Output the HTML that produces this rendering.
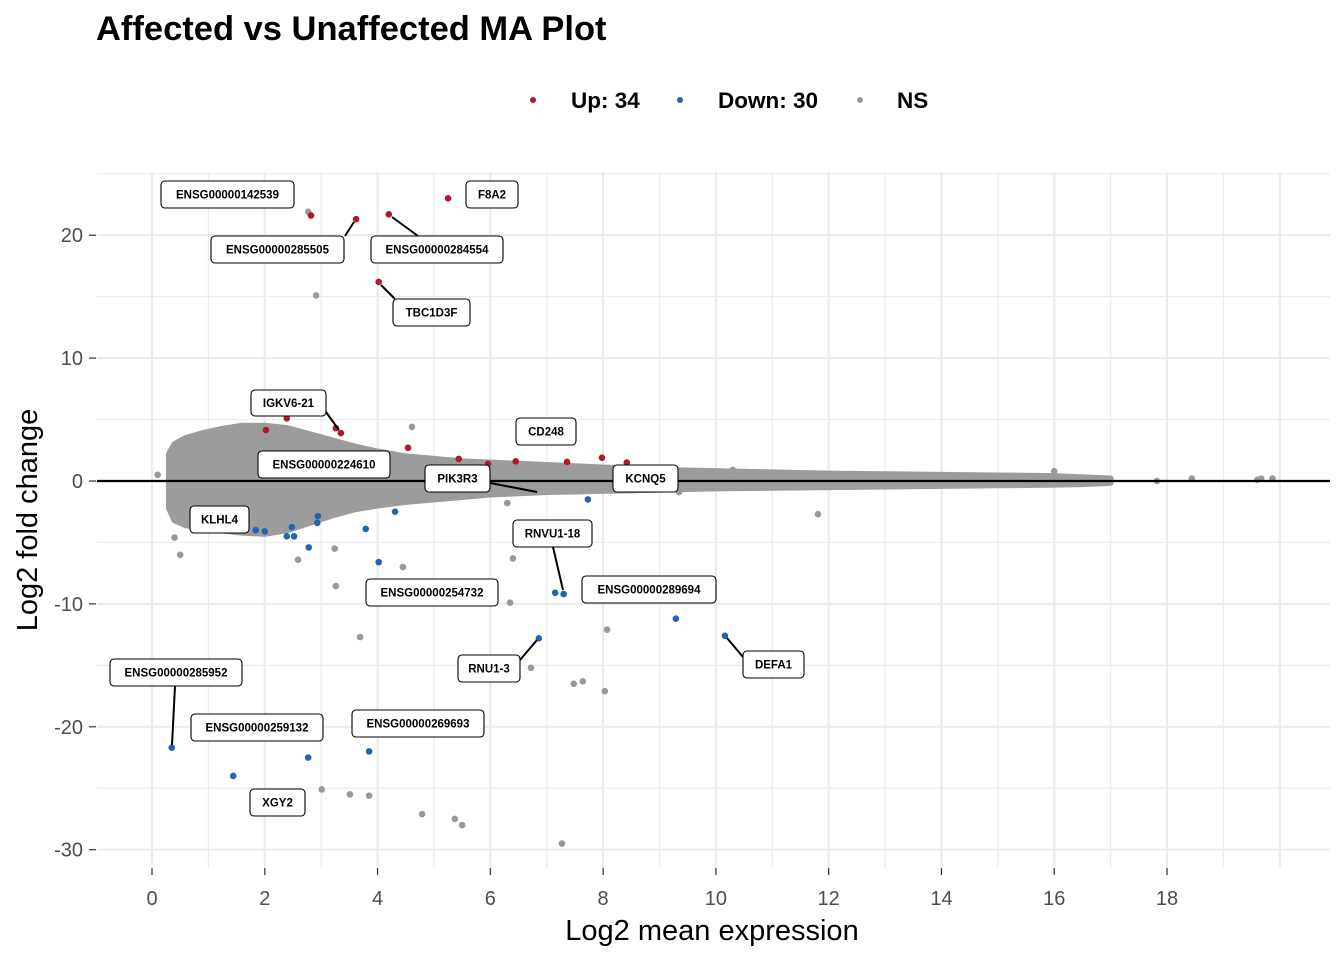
<!DOCTYPE html>
<html><head><meta charset="utf-8"><style>
body{margin:0;background:#fff;}
svg{display:block;font-family:"Liberation Sans",Arial,sans-serif;}
.lbl rect{fill:#fff;stroke:#000;stroke-width:1.1;}
.lbl text{font-size:11.5px;font-weight:bold;text-anchor:middle;fill:#000;}
</style></head><body>
<svg id="chart" width="1344" height="960" viewBox="0 0 1344 960">
<text x="96" y="40" font-size="34.5" font-weight="bold">Affected vs Unaffected MA Plot</text>
<g>
<circle cx="533" cy="100" r="3" fill="#b2182b"/>
<text x="571" y="108" font-size="22.5" font-weight="bold">Up: 34</text>
<circle cx="680" cy="100" r="3" fill="#2166ac"/>
<text x="718" y="108" font-size="22.5" font-weight="bold">Down: 30</text>
<circle cx="860" cy="100" r="3" fill="#999"/>
<text x="897" y="108" font-size="22.5" font-weight="bold">NS</text>
</g>
<g id="grid"></g>
<g id="axes"></g>
<g id="marks"></g>
<g id="labels"></g>
<text x="712" y="940" font-size="29" text-anchor="middle" fill="#000">Log2 mean expression</text>
<text transform="translate(37,520) rotate(-90)" font-size="29" text-anchor="middle" fill="#000">Log2 fold change</text>
</svg>
<script>
const xTicks=[0,2,4,6,8,10,12,14,16,18];
const yTicks=[20,10,0,-10,-20,-30];
const envX=[0.3,0.4,0.6,0.9,1.2,1.6,2.0,2.4,2.8,3.2,3.6,4.0,4.5,5,5.5,6,6.5,7,7.5,8,8.5,9,10,11,12,13,14,15,16,16.5,17];
const envUpper=[2.2,3.0,3.5,3.9,4.2,4.5,4.5,4.3,3.8,3.3,2.8,2.4,2.0,1.8,1.6,1.5,1.4,1.3,1.2,1.1,1.0,0.9,0.8,0.7,0.6,0.55,0.5,0.45,0.4,0.3,0.2];
const envLower=[-2.2,-3.2,-3.6,-3.8,-4.0,-4.2,-4.3,-4.0,-3.4,-2.8,-2.3,-2.0,-1.7,-1.5,-1.3,-1.1,-1.0,-0.9,-0.85,-0.8,-0.75,-0.7,-0.6,-0.55,-0.5,-0.45,-0.4,-0.35,-0.3,-0.25,-0.15];
const nsX=[2.77,2.91,3.24,3.69,6.35,8.07,6.72,7.48,7.64,8.03,3.01,3.51,3.85,4.79,5.37,5.50,7.27,3.26,4.45,6.4,11.81,16.0,17.82,18.44,19.6,19.67,19.87,4.61,0.5,0.4,2.59,0.1,9.35,10.3,6.3,5.0];
const nsY=[21.9,15.1,-5.5,-12.7,-9.9,-12.1,-15.2,-16.5,-16.3,-17.1,-25.1,-25.5,-25.6,-27.1,-27.5,-28.0,-29.5,-8.55,-7.0,-6.3,-2.7,0.8,0,0.2,0.1,0.2,0.2,4.4,-6.0,-4.6,-6.4,0.5,-0.9,0.9,-1.8,1.1];
const upX=[2.82,3.62,4.20,5.25,4.02,3.35,3.26,2.39,2.02,4.54,5.44,6.45,7.36,7.98,8.42,5.96];
const upY=[21.6,21.3,21.7,23.0,16.2,3.9,4.3,5.1,4.15,2.7,1.8,1.6,1.55,1.9,1.5,1.4];
const downX=[0.35,1.44,2.77,3.85,4.02,3.79,4.31,7.15,7.30,6.86,9.29,10.16,7.73,2.94,2.78,2.52,2.39,2.48,1.84,2.0,2.93];
const downY=[-21.7,-24.0,-22.5,-22.0,-6.6,-3.9,-2.5,-9.1,-9.2,-12.8,-11.2,-12.6,-1.5,-2.85,-5.4,-4.5,-4.5,-3.75,-4.0,-4.1,-3.4];
const labelText=["ENSG00000142539","F8A2","ENSG00000285505","ENSG00000284554","TBC1D3F","IGKV6-21","CD248","ENSG00000224610","PIK3R3","KCNQ5","KLHL4","RNVU1-18","ENSG00000289694","ENSG00000254732","RNU1-3","DEFA1","ENSG00000285952","ENSG00000259132","ENSG00000269693","XGY2"];
const labelBox=[[161,181,294,208],[466,181,518,208],[211,236,344,263],[371,236,503,263],[393,299,470,326],[251,390,326,416],[516,418,576,445],[258,451,390,478],[425,465,490,492],[613,465,678,492],[190,506,249,533],[513,520,592,547],[582,576,716,603],[366,579,498,606],[458,655,520,682],[743,651,804,678],[110,659,242,686],[191,714,323,741],[352,710,484,737],[250,789,305,816]];
const leaders=[[345,236,354,222],[418,236,392,217],[395,299,381,285],[326,412,339,430],[490,483,537,492],[553,547,563,590],[520,660,537,640],[743,657,727,638],[175,686,172,745]];

const NS="http://www.w3.org/2000/svg";
const L=97,R=1330,T=172,B=868;
const sx=v=>152+v*56.39;
const sy=v=>481-v*12.29;
function mk(tag,attrs,parent){const e=document.createElementNS(NS,tag);for(const k in attrs)e.setAttribute(k,attrs[k]);parent.appendChild(e);return e;}
const grid=document.getElementById('grid'),axes=document.getElementById('axes'),marks=document.getElementById('marks'),labels=document.getElementById('labels');
for(let v=-1;v<=21;v+=2){const x=sx(v);if(x<L||x>R)continue;const g=mk('line',{x1:x,x2:x,y1:T,y2:B,stroke:'#ececec','stroke-width':1.2},grid);}
for(let v=-35;v<=25;v+=10){const y=sy(v);if(y<T||y>B)continue;const g=mk('line',{x1:L,x2:R,y1:y,y2:y,stroke:'#ececec','stroke-width':1.2},grid);}
for(const v of [20,22]){const x=sx(v);if(x<=R){const g=mk('line',{x1:x,x2:x,y1:T,y2:B,stroke:'#ebebeb','stroke-width':2.2},grid);}}
xTicks.forEach(v=>{const x=sx(v);
const g=mk('line',{x1:x,x2:x,y1:T,y2:B,stroke:'#ebebeb','stroke-width':2.2},grid);
const t=mk('line',{x1:x,x2:x,y1:B,y2:B+7,stroke:'#333','stroke-width':1.2},axes);
const tx=mk('text',{x:x,y:905,'font-size':20,'text-anchor':'middle',fill:'#4d4d4d'},axes);tx.textContent=v;});
yTicks.forEach(v=>{const y=sy(v);
const g=mk('line',{x1:L,x2:R,y1:y,y2:y,stroke:'#ebebeb','stroke-width':2.2},grid);
const t=mk('line',{x1:89,x2:96,y1:y,y2:y,stroke:'#333','stroke-width':1.2},axes);
const tx=mk('text',{x:83,y:y+7,'font-size':20,'text-anchor':'end',fill:'#4d4d4d'},axes);tx.textContent=v;});
let pts=envX.map((v,i)=>sx(v)+','+sy(envUpper[i]));
for(let i=envX.length-1;i>=0;i--)pts.push(sx(envX[i])+','+sy(envLower[i]));
const cloud=mk('polygon',{points:pts.join(' '),fill:'#9c9c9c',stroke:'#9c9c9c','stroke-width':6,'stroke-linejoin':'round'},marks);


nsX.forEach((v,i)=>{const c=mk('circle',{cx:sx(v),cy:sy(nsY[i]),r:3.3,fill:'#999'},marks);});
const zl=mk('line',{x1:L,x2:R,y1:sy(0),y2:sy(0),stroke:'#000','stroke-width':2.2},marks);


upX.forEach((v,i)=>{const c=mk('circle',{cx:sx(v),cy:sy(upY[i]),r:3.3,fill:'#b2182b'},marks);});
downX.forEach((v,i)=>{const c=mk('circle',{cx:sx(v),cy:sy(downY[i]),r:3.3,fill:'#2166ac'},marks);});
leaders.forEach(l=>{const e=mk('line',{x1:l[0],y1:l[1],x2:l[2],y2:l[3],stroke:'#000','stroke-width':2},labels);});
labelText.forEach((s,i)=>{const b=labelBox[i];const g=mk('g',{class:'lbl'},labels);
mk('rect',{x:b[0],y:b[1],width:b[2]-b[0],height:b[3]-b[1],rx:4},g);
const t=mk('text',{x:(b[0]+b[2])/2,y:(b[1]+b[3])/2+4},g);t.textContent=s;});
</script>
</body></html>
